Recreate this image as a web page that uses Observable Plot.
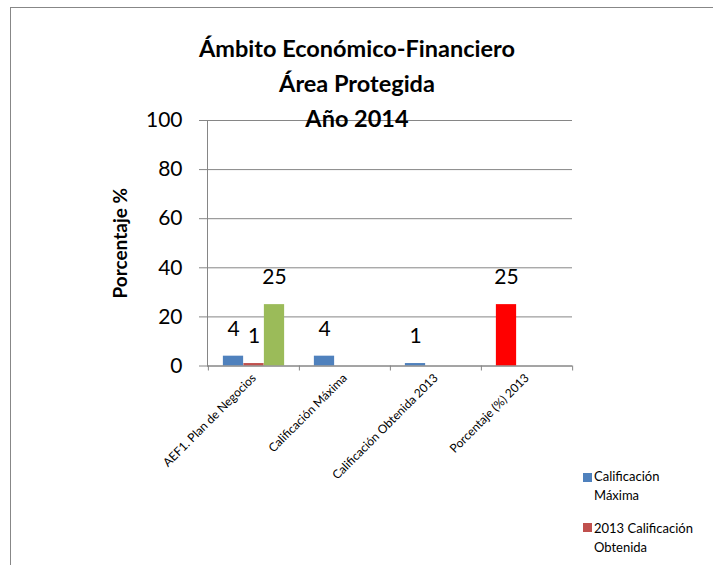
<!DOCTYPE html>
<html>
<head>
<meta charset="utf-8">
<script src="https://cdn.jsdelivr.net/npm/d3@7"></script>
<script src="https://cdn.jsdelivr.net/npm/@observablehq/plot@0.6"></script>
<style>
  body { margin: 0; width: 713px; height: 565px; overflow: hidden; position: relative; background: #fff; font-family: Lato, "Open Sans", sans-serif; }
  #frame { position: absolute; left: 10px; top: 7px; width: 800px; height: 700px; border: 1.5px solid #878787; }
  #chart { position: absolute; left: 0; top: 0; }
  #title { position: absolute; left: 0; top: 30.5px; width: 714px; text-align: center; font-weight: bold; font-size: 23.5px; line-height: 35px; color: #000; }
  .legtxt { position: absolute; left: 594px; font-size: 13px; line-height: 19px; color: #000; }
  .sw { position: absolute; left: 583px; width: 9px; height: 9px; }
</style>
</head>
<body>
<div id="frame"></div>
<div id="chart"></div>
<div id="title">Ámbito Económico-Financiero<br>Área Protegida<br>Año 2014</div>
<div id="legend"></div>
<script>
// ---- data ----
const categories = ["AEF1. Plan de Negocios", "Calificación Máxima", "Calificación Obtenida 2013", "Porcentaje (%) 2013"];
const seriesNames = ["Calificación Máxima", "2013 Calificación Obtenida", "Porcentaje (%) 2013"];
const calificacionMaxima = [4, 4, 1, 25];
const calificacionObtenida2013 = [1, null, null, null];
const porcentaje2013 = [25, null, null, null];
const yTicks = [0, 20, 40, 60, 80, 100];
const yLabel = "Porcentaje %";

// ---- styles ----
const colors = ["#4F81BD", "#C0504D", "#9BBB59"];
const highlight = "#FF0000";
const gridColor = "#868686";

const seriesValues = [calificacionMaxima, calificacionObtenida2013, porcentaje2013];
const rows = [];
seriesValues.forEach((vals, s) => vals.forEach((v, i) => {
  if (v != null) rows.push({category: categories[i], series: seriesNames[s], slot: s, value: v});
}));

const W = 713, H = 565;
const mL = 207, mR = 141, mT = 120, mB = 199.5;
const bw = (W - mL - mR) / categories.length;
const barW = 20.5;
const gap = (bw - 3 * barW) / 2;
const slotInset = s => ({insetLeft: gap + s * barW, insetRight: bw - gap - (s + 1) * barW});
const slotDx = s => (s - 1) * barW;

const fillFor = d => (d.slot === 0 && d.category === categories[3]) ? highlight : colors[d.slot];

const marks = [
  Plot.gridY(yTicks, {stroke: gridColor, strokeOpacity: 1, strokeWidth: 1}),
  Plot.axisY(yTicks, {tickSize: 8, tickPadding: 17, stroke: gridColor, fontSize: 21, fill: "#000", label: null, tickFormat: d => d}),
  Plot.frame({anchor: "left", stroke: gridColor}),
  Plot.axisX({tickSize: 0, tickRotate: -45, tickPadding: 10, fontSize: 12, fill: "#000", label: null}),
  Plot.ruleX(categories, {x: d => d, dx: -bw / 2, y1: 0, y2: 0, insetBottom: -5, stroke: gridColor}),
  Plot.ruleX([categories[categories.length - 1]], {x: d => d, dx: bw / 2, y1: 0, y2: 0, insetBottom: -5, stroke: gridColor}),
];
for (let s = 0; s < 3; s++) {
  const data = rows.filter(d => d.slot === s);
  marks.push(Plot.barY(data, {x: "category", y: "value", fill: fillFor, ...slotInset(s)}));
  marks.push(Plot.text(data, {x: "category", y: "value", text: d => String(d.value), dx: slotDx(s), dy: -27, fontSize: 21, fill: "#000"}));
}
marks.push(Plot.ruleY([0], {stroke: gridColor}));
marks.push(Plot.text([yLabel], {frameAnchor: "left", textAnchor: "middle", dx: -87, rotate: -90, fontSize: 19, fontWeight: "bold", fill: "#000"}));

const chart = Plot.plot({
  width: W, height: H,
  marginLeft: mL, marginRight: mR, marginTop: mT, marginBottom: mB,
  style: {background: "transparent", fontFamily: "Lato, 'Open Sans', sans-serif", overflow: "visible"},
  x: {domain: categories, padding: 0, axis: null},
  y: {domain: [0, 100], axis: null},
  marks
});
document.getElementById("chart").appendChild(chart);

// legend (two entries visible in the reference)
const legend = document.getElementById("legend");
const legTops = [{sw: 472.5, txt: 467}, {sw: 523, txt: 518.5}];
const legText = ["Calificación<br>Máxima", "2013 Calificación<br>Obtenida"];
legTops.forEach((p, i) => {
  const sw = document.createElement("div");
  sw.className = "sw"; sw.style.top = p.sw + "px"; sw.style.background = colors[i];
  legend.appendChild(sw);
  const t = document.createElement("div");
  t.className = "legtxt"; t.style.top = p.txt + "px"; t.innerHTML = legText[i];
  legend.appendChild(t);
});
</script>
</body>
</html>
